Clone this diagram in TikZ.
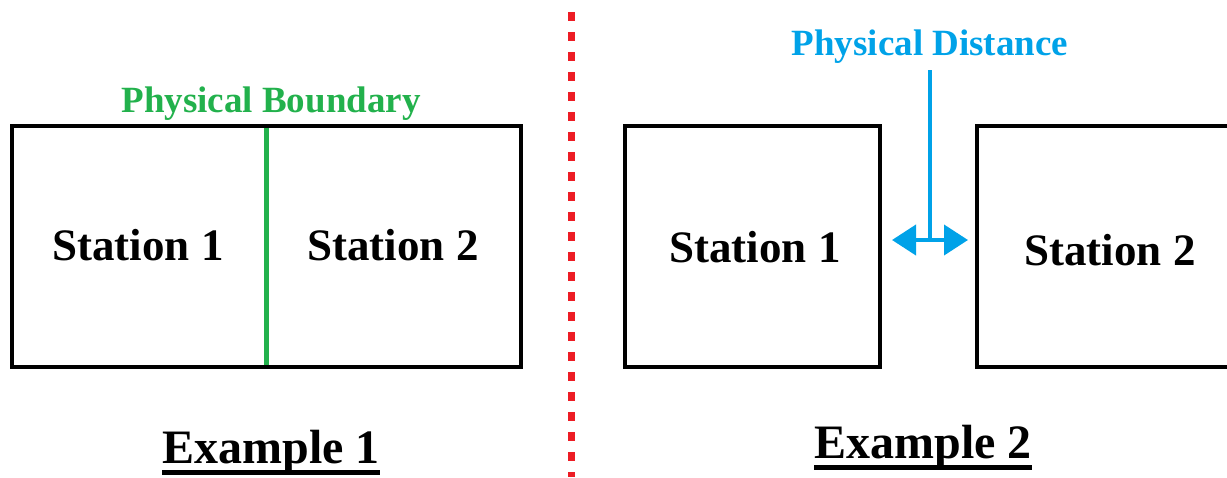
\documentclass[tikz,border=0pt]{standalone}
\usepackage{fontspec}
\setmainfont{Liberation Serif}
\usetikzlibrary{arrows.meta}
\definecolor{boundgreen}{RGB}{34,177,76}
\definecolor{distblue}{RGB}{0,162,232}
\definecolor{sepred}{RGB}{237,28,36}

\begin{document}
\begin{tikzpicture}[x=1pt,y=-1pt,
    station/.style={draw, line width=4pt, inner sep=0pt, minimum height=241pt},
    stationtext/.style={anchor=base, inner sep=0pt, font=\fontsize{45}{50}\selectfont\bfseries},
    labeltext/.style={anchor=base, inner sep=0pt, font=\fontsize{37}{40}\selectfont\bfseries},
    exampletext/.style={anchor=base, inner sep=0pt, font=\fontsize{48}{52}\selectfont\bfseries}]

  \useasboundingbox (0,0) rectangle (1227,477);
  \clip (0,0) rectangle (1227,477);

  % Example 1
  \node[station, minimum width=509pt] (box1) at (266.5,246.5) {};
  \coordinate (bound top) at (266,128);
  \coordinate (bound bot) at (266,365);
  \draw[boundgreen, line width=5pt] (bound top) -- (bound bot);

  \node[stationtext] (st1a) at (138,260) {Station 1};
  \node[stationtext] (st2a) at (393,260) {Station 2};
  \node[labeltext, text=boundgreen] (boundlbl) at (271,112) {Physical Boundary};

  \node[exampletext] (ex1) at (271,463) {Example 1};
  \draw[line width=5pt] ([yshift=-9pt]ex1.base west) -- ([yshift=-9pt]ex1.base east);

  % separator
  \draw[sepred, line width=7pt, dash pattern=on 9pt off 11pt] (571,12) -- (571,477);

  % Example 2
  \node[station, minimum width=255pt] (box2) at (752.5,246.5) {};
  \node[station, minimum width=283pt] (box3) at (1118.5,246.5) {};

  \node[stationtext] (st1b) at (755,262) {Station 1};
  \node[stationtext] (st2b) at (1110,265) {Station 2};

  \node[labeltext, text=distblue] (distlbl) at (930,55) {Physical Distance};
  \coordinate (dist top) at (930,70);
  \coordinate (dist mid) at (930,240);
  \draw[distblue, line width=3.5pt] (dist top) -- (dist mid);
  \draw[distblue, line width=4pt, {Triangle[width=30pt,length=24pt]}-{Triangle[width=30pt,length=24pt]},
        shorten <=10pt, shorten >=7pt] (box2.east |- dist mid) -- (box3.west |- dist mid);

  \node[exampletext] (ex2) at (923,458) {Example 2};
  \draw[line width=5pt] ([yshift=-9pt]ex2.base west) -- ([yshift=-9pt]ex2.base east);
\end{tikzpicture}
\end{document}
